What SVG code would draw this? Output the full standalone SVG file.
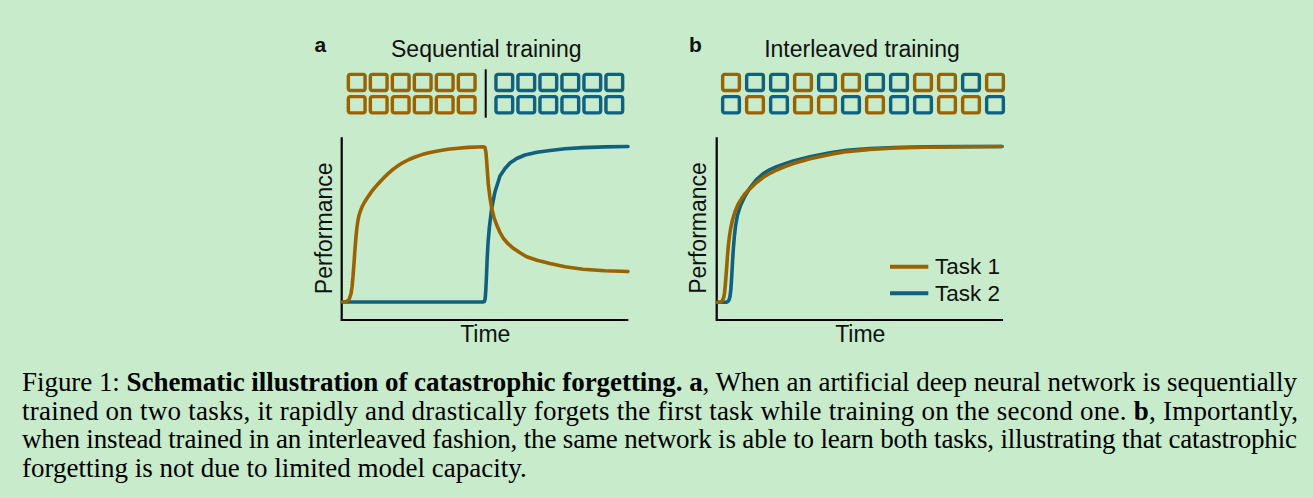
<svg xmlns="http://www.w3.org/2000/svg" xmlns:xlink="http://www.w3.org/1999/xlink" width="1313" height="498" viewBox="0 0 1313 498">
<style>
.s{font-family:"Liberation Sans",Arial,sans-serif;fill:#111}
.ttl{font-size:23px}
.pl{font-size:21px;font-weight:bold}
.leg{font-size:22.5px}
.cap{font-family:"Liberation Serif","Times New Roman",serif;font-size:27px;fill:#000}
.cap .b{font-weight:bold}
.o{fill:none;stroke:#9A6300;stroke-width:3.4}
.u{fill:none;stroke:#10607F;stroke-width:3.4}
.ax{fill:none;stroke:#000;stroke-width:2.2}
.co{fill:none;stroke:#9A6300;stroke-width:3.6;stroke-linejoin:round;stroke-linecap:round}
.cb{fill:none;stroke:#10607F;stroke-width:3.6;stroke-linejoin:round;stroke-linecap:round}
</style>
<defs>
<rect id="bx" width="16.7" height="16.2" rx="2"/>
</defs>
<rect width="1313" height="498" fill="#C7EBCB"/>

<g id="panel-a">
<text class="s pl" x="314.5" y="51.7">a</text>
<text class="s ttl" x="486.3" y="57" text-anchor="middle">Sequential training</text>
<g id="boxes-a">
<use xlink:href="#bx" class="o" x="348.35" y="74.35"/><use xlink:href="#bx" class="o" x="370.35" y="74.35"/><use xlink:href="#bx" class="o" x="392.35" y="74.35"/><use xlink:href="#bx" class="o" x="414.35" y="74.35"/><use xlink:href="#bx" class="o" x="436.35" y="74.35"/><use xlink:href="#bx" class="o" x="458.35" y="74.35"/>
<use xlink:href="#bx" class="o" x="348.35" y="96.65"/><use xlink:href="#bx" class="o" x="370.35" y="96.65"/><use xlink:href="#bx" class="o" x="392.35" y="96.65"/><use xlink:href="#bx" class="o" x="414.35" y="96.65"/><use xlink:href="#bx" class="o" x="436.35" y="96.65"/><use xlink:href="#bx" class="o" x="458.35" y="96.65"/>
<line x1="485.7" y1="69.3" x2="485.7" y2="117.7" stroke="#000" stroke-width="2"/>
<use xlink:href="#bx" class="u" x="495.95" y="74.35"/><use xlink:href="#bx" class="u" x="517.95" y="74.35"/><use xlink:href="#bx" class="u" x="539.95" y="74.35"/><use xlink:href="#bx" class="u" x="561.95" y="74.35"/><use xlink:href="#bx" class="u" x="583.95" y="74.35"/><use xlink:href="#bx" class="u" x="605.95" y="74.35"/>
<use xlink:href="#bx" class="u" x="495.95" y="96.65"/><use xlink:href="#bx" class="u" x="517.95" y="96.65"/><use xlink:href="#bx" class="u" x="539.95" y="96.65"/><use xlink:href="#bx" class="u" x="561.95" y="96.65"/><use xlink:href="#bx" class="u" x="583.95" y="96.65"/><use xlink:href="#bx" class="u" x="605.95" y="96.65"/>
</g>
<path class="ax" d="M341.7,137.3 V320 H628.3"/>
<polyline class="cb" points="342.5,302 483,302 484.4,301.4 485.2,298.5 485.8,290 486.4,278 487.2,258 488.1,242 489.3,228 491.7,208.3 495,191.7 500,176 505,168.5 510,163 516.7,158.5 525,155 537,152.3 550,150.5 565,148.8 583,147.6 605,146.9 628,146.5"/>
<polyline class="co" points="342.5,302 346,301.8 349,299.8 351,293.8 352,287 353,276.7 354,263.3 355,249.1 356,236.5 357,226.9 358,220.1 359,215.5 360.5,210.8 362.2,206.5 364.5,202.2 367,198.2 369.5,194.6 372,191 375,187.4 378,184 381.5,180.2 385,176.6 389,172.8 393,169.4 398,165.8 403,162.6 409,159.5 415,157 422,154.6 430,152.5 439,150.7 448,149.3 458,148.2 468,147.4 483.5,146.8 485,147.5 485.9,152 486.7,161.7 487.5,173 488.3,184 489.8,196.5 491.7,208.3 494,217.5 496.7,225 499.8,232 503.3,238.3 508,243.7 513.3,248.3 520,252.8 526.7,256.7 537,260.3 550,263.5 565,266.7 583,269.2 605,270.8 628,271.5"/>
<text class="s ttl" transform="translate(331.5,228.3) rotate(-90)" text-anchor="middle">Performance</text>
<text class="s ttl" x="485.3" y="341.7" text-anchor="middle">Time</text>
</g>

<g id="panel-b">
<text class="s pl" x="689" y="51.7">b</text>
<text class="s ttl" x="862" y="57" text-anchor="middle">Interleaved training</text>
<g id="boxes-b">
<use xlink:href="#bx" class="o" x="722.65" y="74.35"/><use xlink:href="#bx" class="u" x="746.65" y="74.35"/><use xlink:href="#bx" class="u" x="770.65" y="74.35"/><use xlink:href="#bx" class="o" x="794.65" y="74.35"/><use xlink:href="#bx" class="u" x="818.65" y="74.35"/><use xlink:href="#bx" class="o" x="842.65" y="74.35"/><use xlink:href="#bx" class="u" x="866.65" y="74.35"/><use xlink:href="#bx" class="u" x="890.65" y="74.35"/><use xlink:href="#bx" class="o" x="914.65" y="74.35"/><use xlink:href="#bx" class="o" x="938.65" y="74.35"/><use xlink:href="#bx" class="u" x="962.65" y="74.35"/><use xlink:href="#bx" class="o" x="986.65" y="74.35"/>
<use xlink:href="#bx" class="u" x="722.65" y="96.65"/><use xlink:href="#bx" class="o" x="746.65" y="96.65"/><use xlink:href="#bx" class="u" x="770.65" y="96.65"/><use xlink:href="#bx" class="o" x="794.65" y="96.65"/><use xlink:href="#bx" class="o" x="818.65" y="96.65"/><use xlink:href="#bx" class="u" x="842.65" y="96.65"/><use xlink:href="#bx" class="o" x="866.65" y="96.65"/><use xlink:href="#bx" class="u" x="890.65" y="96.65"/><use xlink:href="#bx" class="u" x="914.65" y="96.65"/><use xlink:href="#bx" class="o" x="938.65" y="96.65"/><use xlink:href="#bx" class="o" x="962.65" y="96.65"/><use xlink:href="#bx" class="u" x="986.65" y="96.65"/>
</g>
<path class="ax" d="M716.7,137.3 V320 H1003"/>
<polyline class="cb" points="717.5,302.3 726,302.3 727.8,301.6 729,300 730,296.5 730.9,289 731.7,277 732.5,262 733.4,248 734.4,236 735.6,225.5 737.5,215 740.5,205.5 745,196 750,187.8 756,180.2 763.3,173.6 770,169.6 776.7,166.6 785,163.6 793.3,161 810,156.8 830,152.8 846.7,150.3 870,148.5 895,147.5 925,146.9 960,146.6 1002,146.5"/>
<polyline class="co" points="717.5,302.3 720.5,302 722.3,300.8 723.6,298 724.5,293 725.3,285 726,276 726.7,267 727.5,256 728.3,246 729.5,236 730.7,228.3 732.5,220 735,211.7 738,204.5 741.7,198.3 745.5,193.2 750,188.6 756,183 763.3,177.3 770,173.3 776.7,170 785,166.5 793.3,163.5 810,158.8 830,154.6 846.7,151.6 870,149.4 895,148 925,147.2 960,146.8 1002,146.5"/>
<text class="s ttl" transform="translate(706,228) rotate(-90)" text-anchor="middle">Performance</text>
<text class="s ttl" x="860.3" y="341.7" text-anchor="middle">Time</text>
<g id="legend">
<line x1="890" y1="266.7" x2="928.3" y2="266.7" stroke="#9A6300" stroke-width="4"/>
<text class="s leg" x="935" y="274">Task 1</text>
<line x1="890" y1="293.3" x2="928.3" y2="293.3" stroke="#10607F" stroke-width="4"/>
<text class="s leg" x="935" y="301">Task 2</text>
</g>
</g>

<g id="caption" class="cap">
<text x="22" y="391" textLength="1275" lengthAdjust="spacing">Figure 1: <tspan class="b">Schematic illustration of catastrophic forgetting.</tspan> <tspan class="b">a</tspan>, When an artificial deep neural network is sequentially</text>
<text x="22" y="419.7" textLength="1276" lengthAdjust="spacing">trained on two tasks, it rapidly and drastically forgets the first task while training on the second one. <tspan class="b">b</tspan>, Importantly,</text>
<text x="22" y="448.3" textLength="1275" lengthAdjust="spacing">when instead trained in an interleaved fashion, the same network is able to learn both tasks, illustrating that catastrophic</text>
<text x="22" y="477">forgetting is not due to limited model capacity.</text>
</g>
</svg>
